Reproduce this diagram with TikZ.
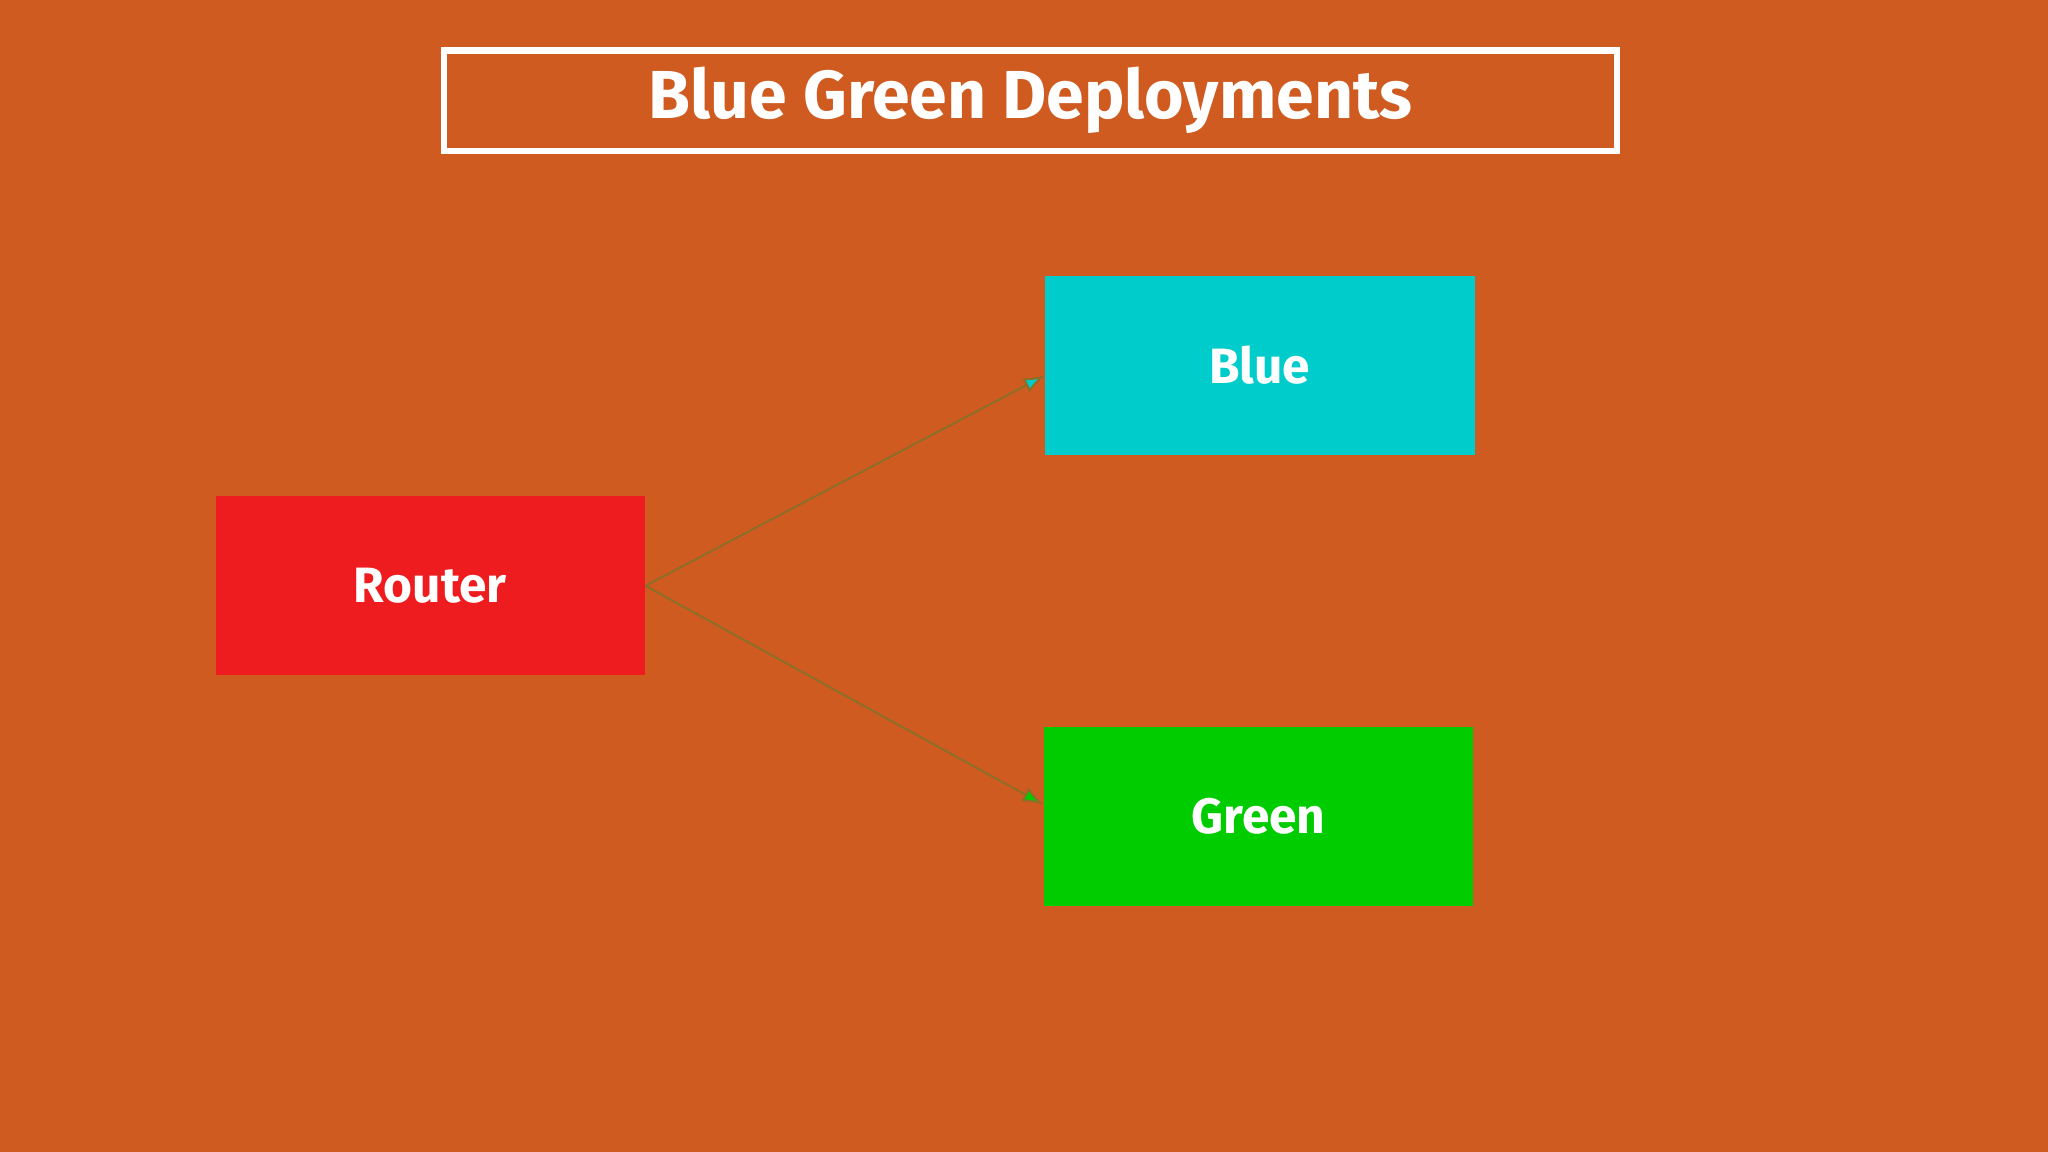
\documentclass[tikz,border=0pt]{standalone}
\usepackage{fontspec}
\setmainfont{Fira Sans}
\usetikzlibrary{arrows.meta}
\definecolor{bg}{RGB}{207,91,32}
\definecolor{rred}{RGB}{238,28,30}
\definecolor{bblue}{RGB}{0,204,204}
\definecolor{ggreen}{RGB}{0,204,0}
\definecolor{arr}{RGB}{140,110,40}
\tikzset{box/.style={minimum width=329pt,minimum height=137pt,inner sep=0pt,text=white,font=\fontsize{38}{40}\selectfont\bfseries},
conn/.style={draw=arr,line width=1.5pt,-{Latex[length=16pt,width=12pt]}}}
\begin{document}
\begin{tikzpicture}[x=1pt,y=-1pt]
\fill[bg] (0,0) rectangle (1568,882);
\useasboundingbox (0,0) rectangle (1568,882);
\node[draw=white,line width=5pt,minimum width=898pt,minimum height=77pt,inner sep=0pt,text=white,font=\fontsize{52}{54}\selectfont\bfseries] (title) at (789,77) {Blue Green Deployments};
\node[box,fill=rred] (router) at (329.5,448.5) {Router};
\node[box,fill=bblue] (blue) at (964.5,279.5) {Blue};
\node[box,fill=ggreen] (green) at (963.5,625) {Green};
\draw[conn,-{Latex[length=16pt,width=12pt,fill=bblue]}] (router.east) -- ([yshift=-8pt]blue.west);
\draw[conn,-{Latex[length=16pt,width=12pt,fill=ggreen]}] (router.east) -- ([yshift=9pt]green.west);
\end{tikzpicture}
\end{document}
